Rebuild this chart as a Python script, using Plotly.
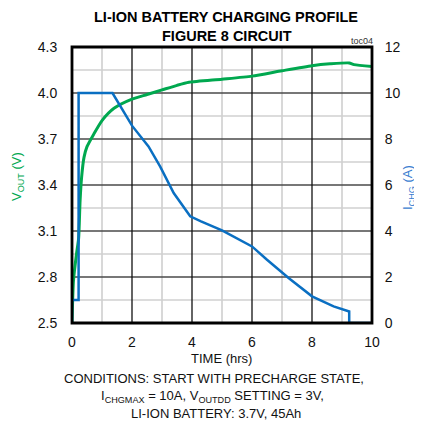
import plotly.graph_objects as go

# Data
t_v = [0, 0.05, 0.15, 0.22, 0.27, 0.32, 0.4, 0.5, 0.72, 1.0, 1.4, 2.0, 2.5, 3.0, 3.5, 3.9, 5.0, 6.0, 7.0, 8.0, 8.6, 9.24, 9.4, 10.0]
v_out = [2.5, 2.78, 2.95, 3.05, 3.3, 3.45, 3.58, 3.65, 3.73, 3.82, 3.90, 3.96, 3.99, 4.02, 4.05, 4.07, 4.09, 4.11, 4.145, 4.178, 4.19, 4.196, 4.185, 4.172]

t_i = [0, 0, 0.22, 0.22, 1.35, 2.0, 2.55, 2.94, 3.39, 3.94, 4.3, 5.0, 6.0, 6.5, 7.22, 8.0, 8.72, 9.24, 9.24, 10.0]
i_chg = [0, 1.0, 1.0, 10.0, 10.0, 8.58, 7.68, 6.8, 5.65, 4.64, 4.42, 4.03, 3.33, 2.75, 1.96, 1.16, 0.72, 0.5, 0, 0]

x_ticks = [0, 2, 4, 6, 8, 10]
y_ticks = [2.5, 2.8, 3.1, 3.4, 3.7, 4.0, 4.3]
y2_ticks = [0, 2, 4, 6, 8, 10, 12]

x_minor = [(a + b) / 2 for a, b in zip(x_ticks[:-1], x_ticks[1:])]
y_minor = [round((a + b) / 2, 3) for a, b in zip(y_ticks[:-1], y_ticks[1:])]

GREEN = "#00A84F"
BLUE = "#0A6FC2"
FONT = "Liberation Sans, Arial, sans-serif"

# page is offset by the 8px body margin; figure sized to fit the window
W, H = 414, 417
OFF = 8
pl, pr, pt, pb = 72, 372, 47, 323  # plot area in window pixels

fig = go.Figure()
fig.add_trace(go.Scatter(x=t_v, y=v_out, mode="lines", line=dict(color=GREEN, width=3, shape="spline", smoothing=0.6),
                         showlegend=False, hoverinfo="skip"))
fig.add_trace(go.Scatter(x=t_i, y=i_chg, mode="lines", line=dict(color=BLUE, width=2.5),
                         yaxis="y2", showlegend=False, hoverinfo="skip"))

# grid lines (drawn below the traces)
shapes = []
for xv in x_minor:
    shapes.append(dict(type="line", xref="x", yref="paper", x0=xv, x1=xv, y0=0, y1=1,
                       line=dict(color="#c8c8c8", width=1.4), layer="below"))
for yv in y_minor:
    shapes.append(dict(type="line", xref="paper", yref="y", x0=0, x1=1, y0=yv, y1=yv,
                       line=dict(color="#d0d0d0", width=1.6), layer="below"))
for yv in y_ticks[1:-1]:
    shapes.append(dict(type="line", xref="paper", yref="y", x0=0, x1=1, y0=yv, y1=yv,
                       line=dict(color="#4a4a4a", width=1.6), layer="below"))
for xv in x_ticks[1:-1]:
    shapes.append(dict(type="line", xref="x", yref="paper", x0=xv, x1=xv, y0=0, y1=1,
                       line=dict(color="#111111", width=1.3), layer="below"))
shapes.append(dict(type="rect", xref="paper", yref="paper", x0=0, x1=1, y0=0, y1=1,
                   line=dict(color="black", width=2.8), fillcolor="rgba(0,0,0,0)", layer="above"))

fig.update_layout(
    width=W, height=H,
    margin=dict(l=pl - OFF, r=W - (pr - OFF), t=pt - OFF, b=H - (pb - OFF)),
    paper_bgcolor="white", plot_bgcolor="white",
    font=dict(family=FONT, size=14, color="#111"),
    xaxis=dict(range=[0, 10], tickmode="array", tickvals=x_ticks, ticktext=[str(v) for v in x_ticks],
               showgrid=False, zeroline=False,
               ticks="outside", ticklen=6, tickcolor="rgba(0,0,0,0)", tickfont=dict(size=14)),
    yaxis=dict(range=[2.5, 4.3], tickmode="array", tickvals=y_ticks, ticktext=[f"{v:.1f}" for v in y_ticks],
               showgrid=False, zeroline=False,
               ticks="outside", ticklen=11, tickcolor="rgba(0,0,0,0)", tickfont=dict(size=14)),
    yaxis2=dict(range=[0, 12], tickmode="array", tickvals=y2_ticks, overlaying="y", side="right", showgrid=False,
                zeroline=False, ticks="outside", ticklen=9, tickcolor="rgba(0,0,0,0)", tickfont=dict(size=14)),
    shapes=shapes,
)

ann = [
    dict(text="<b>LI-ION BATTERY CHARGING PROFILE</b>", x=226, y=17, size=14.5, color="#000"),
    dict(text="<b>FIGURE 8 CIRCUIT</b>", x=227, y=36, size=14.5, color="#000"),
    dict(text="toc04", x=362, y=41, size=9, color="#333"),
    dict(text="TIME (hrs)", x=221, y=358, size=13, color="#111"),
    dict(text="CONDITIONS: START WITH PRECHARGE STATE,", x=214, y=378, size=13, color="#111"),
    dict(text="I<sub>CHGMAX</sub> = 10A, V<sub>OUTDD</sub> SETTING = 3V,", x=212, y=396, size=13, color="#111"),
    dict(text="LI-ION BATTERY: 3.7V, 45Ah", x=216, y=413, size=13, color="#111"),
]
annotations = []
for a in ann:
    annotations.append(dict(text=a["text"], x=(a["x"] - pl) / (pr - pl), y=(pb - a["y"]) / (pb - pt),
                            xref="paper", yref="paper", xanchor="center", yanchor="middle", showarrow=False,
                            font=dict(size=a["size"], color=a["color"], family=FONT)))
annotations.append(dict(text="V<sub>OUT</sub> (V)", x=(17 - pl) / (pr - pl), y=(pb - 177) / (pb - pt),
                        xref="paper", yref="paper", textangle=-90, showarrow=False,
                        xanchor="center", yanchor="middle", font=dict(size=13, color=GREEN, family=FONT)))
annotations.append(dict(text="I<sub>CHG</sub> (A)", x=(408 - pl) / (pr - pl), y=(pb - 188) / (pb - pt),
                        xref="paper", yref="paper", textangle=-90, showarrow=False,
                        xanchor="center", yanchor="middle", font=dict(size=13, color="#3A7DD0", family=FONT)))
fig.update_layout(annotations=annotations)

fig.write_html("out.html")
